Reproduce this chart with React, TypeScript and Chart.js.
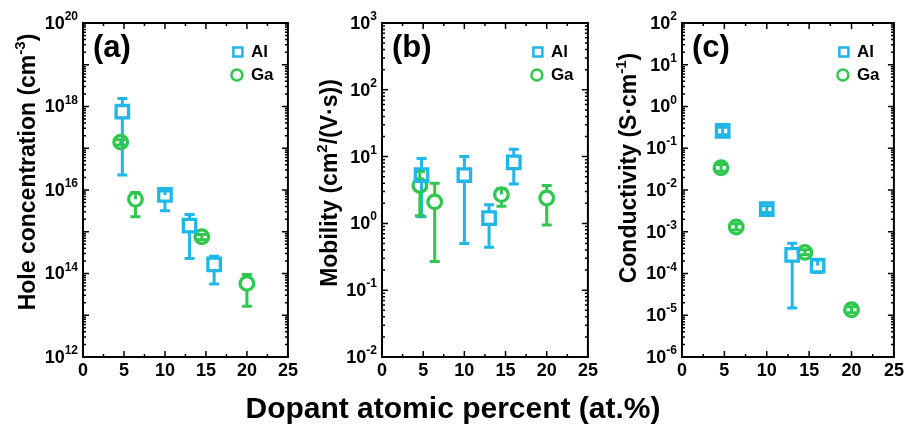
import React, { useEffect, useRef } from "react";
import { Chart, registerables } from "chart.js";

Chart.register(...registerables);

const AL_COLOR = "#1fb6e8";
const GA_COLOR = "#2fc74d";
const FONT = "'Liberation Sans', Arial, sans-serif";

// shared x ticks
const xTickLabels = [0, 5, 10, 15, 20, 25];

// Panel (a) hole concentration (cm^-3)
const holeAlX = [4.8, 10, 13, 16];
const holeAlY = [7.5e17, 7.6e15, 1.4e15, 1.65e14];
const holeAlLo = [2.3e16, 3.2e15, 2.3e14, 5.6e13];
const holeAlHi = [1.55e18, 9.5e15, 2.6e15, 2.6e14];
const holeGaX = [4.6, 6.4, 14.5, 20];
const holeGaY = [1.4e17, 6.0e15, 7.6e14, 5.8e13];
const holeGaLo = [1.2e17, 2.3e15, 6.4e14, 1.65e13];
const holeGaHi = [1.6e17, 8.7e15, 8.6e14, 9.5e13];
const holeTickExps = [12, 14, 16, 18, 20];

// Panel (b) mobility (cm^2/(V·s))
const mobAlX = [4.8, 10, 13, 16];
const mobAlY = [5.3, 5.3, 1.2, 8.2];
const mobAlLo = [1.26, 0.5, 0.44, 3.9];
const mobAlHi = [9.4, 10, 1.9, 12.9];
const mobGaX = [4.6, 6.4, 14.5, 20];
const mobGaY = [3.7, 2.1, 2.7, 2.4];
const mobGaLo = [1.3, 0.27, 1.8, 0.95];
const mobGaHi = [6.0, 4.0, 3.3, 3.7];
const mobTickExps = [-2, -1, 0, 1, 2, 3];

// Panel (c) conductivity (S·cm^-1)
const condAlX = [4.8, 10, 13, 16];
const condAlY = [0.26, 3.5e-3, 2.8e-4, 1.55e-4];
const condAlLo = [0.21, 2.9e-3, 1.5e-5, 1.05e-4];
const condAlHi = [0.32, 4.2e-3, 5.3e-4, 2.1e-4];
const condGaX = [4.6, 6.4, 14.5, 20];
const condGaY = [0.034, 1.3e-3, 3.2e-4, 1.35e-5];
const condGaLo = [0.028, 1.1e-3, 2.8e-4, 1.15e-5];
const condGaHi = [0.041, 1.55e-3, 3.7e-4, 1.6e-5];
const condTickExps = [-6, -5, -4, -3, -2, -1, 0, 1, 2];

type Series = { label: string; color: string; style: "rect" | "circle"; x: number[]; y: number[]; lo: number[]; hi: number[] };
type Seg = { t: string; sup?: boolean };
type PanelCfg = {
  left: number; w: number; plotLeft: number; plotRight: number;
  yMin: number; yMax: number; tickExps: number[];
  title: Seg[]; titleCx: number; titleCy: number; tag: string;
  series: Series[];
};

const H = 429;
const PLOT_TOP = 23;
const PLOT_BOTTOM = 357;

const panels: PanelCfg[] = [
  {
    left: 0, w: 300, plotLeft: 83, plotRight: 296, yMin: 1e12, yMax: 1e20, tickExps: holeTickExps,
    title: [{ t: "Hole concentration (cm" }, { t: "-3", sup: true }, { t: ")" }], titleCx: 27, titleCy: 172, tag: "(a)",
    series: [
      { label: "Al", color: AL_COLOR, style: "rect", x: holeAlX, y: holeAlY, lo: holeAlLo, hi: holeAlHi },
      { label: "Ga", color: GA_COLOR, style: "circle", x: holeGaX, y: holeGaY, lo: holeGaLo, hi: holeGaHi },
    ],
  },
  {
    left: 300, w: 300, plotLeft: 82, plotRight: 292, yMin: 1e-2, yMax: 1e3, tickExps: mobTickExps,
    title: [{ t: "Mobility (cm" }, { t: "2", sup: true }, { t: "/(V·s))" }], titleCx: 29, titleCy: 183, tag: "(b)",
    series: [
      { label: "Al", color: AL_COLOR, style: "rect", x: mobAlX, y: mobAlY, lo: mobAlLo, hi: mobAlHi },
      { label: "Ga", color: GA_COLOR, style: "circle", x: mobGaX, y: mobGaY, lo: mobGaLo, hi: mobGaHi },
    ],
  },
  {
    left: 600, w: 306, plotLeft: 82, plotRight: 294, yMin: 1e-6, yMax: 1e2, tickExps: condTickExps,
    title: [{ t: "Conductivity (S·cm" }, { t: "-1", sup: true }, { t: ")" }], titleCx: 28, titleCy: 168, tag: "(c)",
    series: [
      { label: "Al", color: AL_COLOR, style: "rect", x: condAlX, y: condAlY, lo: condAlLo, hi: condAlHi },
      { label: "Ga", color: GA_COLOR, style: "circle", x: condGaX, y: condGaY, lo: condGaLo, hi: condGaHi },
    ],
  },
];

function makePlugin(cfg: PanelCfg) {
  return {
    id: "panelDecor",
    beforeDatasetsDraw(chart: any) {
      const ctx = chart.ctx;
      const xs = chart.scales.x;
      const ys = chart.scales.y;
      ctx.save();
      ctx.lineWidth = 3;
      ctx.lineCap = "butt";
      for (const s of cfg.series) {
        ctx.strokeStyle = s.color;
        const gap = 7;
        for (let i = 0; i < s.x.length; i++) {
          const px = xs.getPixelForValue(s.x[i]);
          const py = ys.getPixelForValue(s.y[i]);
          const pHi = ys.getPixelForValue(s.hi[i]);
          const pLo = ys.getPixelForValue(s.lo[i]);
          ctx.beginPath();
          if (py - pHi > gap) { ctx.moveTo(px, pHi); ctx.lineTo(px, py - gap); }
          else { ctx.moveTo(px, pHi); ctx.lineTo(px, py); }
          if (pLo - py > gap) { ctx.moveTo(px, py + gap); ctx.lineTo(px, pLo); }
          else { ctx.moveTo(px, py); ctx.lineTo(px, pLo); }
          ctx.moveTo(px - 5, pHi); ctx.lineTo(px + 5, pHi);
          ctx.moveTo(px - 5, pLo); ctx.lineTo(px + 5, pLo);
          ctx.stroke();
        }
      }
      ctx.restore();
    },
    afterDraw(chart: any) {
      const ctx = chart.ctx;
      const xs = chart.scales.x;
      const ys = chart.scales.y;
      const { left, right, top, bottom } = chart.chartArea;
      ctx.save();
      // ticks
      ctx.strokeStyle = "#000";
      ctx.lineWidth = 1.5;
      ctx.beginPath();
      for (let v = 0; v <= 25; v += 2.5) {
        const px = xs.getPixelForValue(v);
        const len = v % 5 === 0 ? 6 : 3;
        ctx.moveTo(px, bottom); ctx.lineTo(px, bottom - len);
        ctx.moveTo(px, top); ctx.lineTo(px, top + len);
      }
      const eMin = Math.round(Math.log10(cfg.yMin));
      const eMax = Math.round(Math.log10(cfg.yMax));
      for (let e = eMin; e <= eMax; e++) {
        const py = ys.getPixelForValue(Math.pow(10, e));
        ctx.moveTo(left, py); ctx.lineTo(left + 6, py);
        ctx.moveTo(right, py); ctx.lineTo(right - 6, py);
        if (e < eMax) {
          for (let m = 2; m <= 9; m++) {
            const pm = ys.getPixelForValue(m * Math.pow(10, e));
            ctx.moveTo(left, pm); ctx.lineTo(left + 3, pm);
            ctx.moveTo(right, pm); ctx.lineTo(right - 3, pm);
          }
        }
      }
      ctx.stroke();
      // frame
      ctx.lineWidth = 2;
      ctx.strokeRect(left, top, right - left, bottom - top);

      // x tick labels
      ctx.fillStyle = "#000";
      ctx.font = `bold 18px ${FONT}`;
      ctx.textAlign = "center";
      ctx.textBaseline = "top";
      for (const v of xTickLabels) {
        ctx.fillText(String(v), xs.getPixelForValue(v), bottom + 5);
      }
      // y tick labels
      for (const e of cfg.tickExps) {
        const py = ys.getPixelForValue(Math.pow(10, e));
        const exp = String(e);
        ctx.font = `bold 12px ${FONT}`;
        const we = ctx.measureText(exp).width;
        ctx.font = `bold 18px ${FONT}`;
        const wb = ctx.measureText("10").width;
        const xr = left - 5;
        ctx.textAlign = "left";
        ctx.textBaseline = "middle";
        ctx.fillText("10", xr - we - wb, py + 1);
        ctx.font = `bold 12px ${FONT}`;
        ctx.textBaseline = "alphabetic";
        ctx.fillText(exp, xr - we, py - 3);
      }
      // panel tag
      ctx.font = `bold 31px ${FONT}`;
      ctx.textAlign = "left";
      ctx.textBaseline = "alphabetic";
      ctx.fillText(cfg.tag, left + 10, 57);

      // legend
      const lx = right - 50;
      ctx.lineWidth = 2.5;
      ctx.strokeStyle = AL_COLOR;
      ctx.strokeRect(lx - 4.5, 52 - 4.5, 9, 9);
      ctx.strokeStyle = GA_COLOR;
      ctx.beginPath();
      ctx.arc(lx - 1, 75, 5.5, 0, Math.PI * 2);
      ctx.stroke();
      ctx.font = `bold 17px ${FONT}`;
      ctx.textBaseline = "middle";
      ctx.fillText("Al", lx + 13, 52);
      ctx.fillText("Ga", lx + 13, 75);

      // y title
      ctx.translate(cfg.titleCx, cfg.titleCy);
      ctx.rotate(-Math.PI / 2);
      const mainF = `bold 23px ${FONT}`;
      const supF = `bold 15px ${FONT}`;
      let total = 0;
      for (const s of cfg.title) {
        ctx.font = s.sup ? supF : mainF;
        total += ctx.measureText(s.t).width;
      }
      let cx = -total / 2;
      ctx.textAlign = "left";
      ctx.textBaseline = "alphabetic";
      for (const s of cfg.title) {
        ctx.font = s.sup ? supF : mainF;
        ctx.fillText(s.t, cx, s.sup ? -2 : 8);
        cx += ctx.measureText(s.t).width;
      }
      ctx.restore();
    },
  };
}

function Panel({ cfg }: { cfg: PanelCfg }) {
  const ref = useRef<HTMLCanvasElement | null>(null);
  useEffect(() => {
    if (!ref.current) return;
    const chart = new Chart(ref.current, {
      type: "scatter",
      data: {
        datasets: cfg.series.map((s) => ({
          label: s.label,
          data: s.x.map((x, i) => ({ x, y: s.y[i] })),
          pointStyle: s.style,
          pointRadius: s.style === "rect" ? 8.8 : 6.8,
          pointBorderWidth: 3.3,
          pointBorderColor: s.color,
          pointBackgroundColor: "rgba(0,0,0,0)",
          borderColor: s.color,
          backgroundColor: "rgba(0,0,0,0)",
          showLine: false,
        })),
      },
      options: {
        responsive: false,
        animation: false,
        events: [],
        layout: { padding: { top: PLOT_TOP, left: 0, bottom: 0, right: cfg.w - cfg.plotRight } },
        plugins: { legend: { display: false }, tooltip: { enabled: false } },
        scales: {
          x: {
            type: "linear", min: 0, max: 25,
            grid: { display: false }, border: { display: false },
            ticks: { display: false },
            afterFit: (s: any) => { s.height = H - PLOT_BOTTOM; },
          },
          y: {
            type: "logarithmic", min: cfg.yMin, max: cfg.yMax,
            grid: { display: false }, border: { display: false },
            ticks: { display: false },
            afterFit: (s: any) => { s.width = cfg.plotLeft; },
          },
        },
      } as any,
      plugins: [makePlugin(cfg) as any],
    });
    return () => chart.destroy();
  }, [cfg]);
  return (
    <canvas
      ref={ref}
      width={cfg.w}
      height={H}
      style={{ position: "absolute", left: cfg.left, top: 0, width: cfg.w, height: H }}
    />
  );
}

export default function App() {
  return (
    <div style={{ position: "absolute", left: 0, top: 0, width: 906, height: 429, background: "#fff", overflow: "hidden" }}>
      {panels.map((p, i) => (
        <Panel key={i} cfg={p} />
      ))}
      <div
        style={{
          position: "absolute", left: 0, top: 390, width: 906, textAlign: "center",
          fontFamily: FONT, fontWeight: "bold", fontSize: 30, lineHeight: "36px", color: "#000",
        }}
      >
        Dopant atomic percent (at.%)
      </div>
    </div>
  );
}
